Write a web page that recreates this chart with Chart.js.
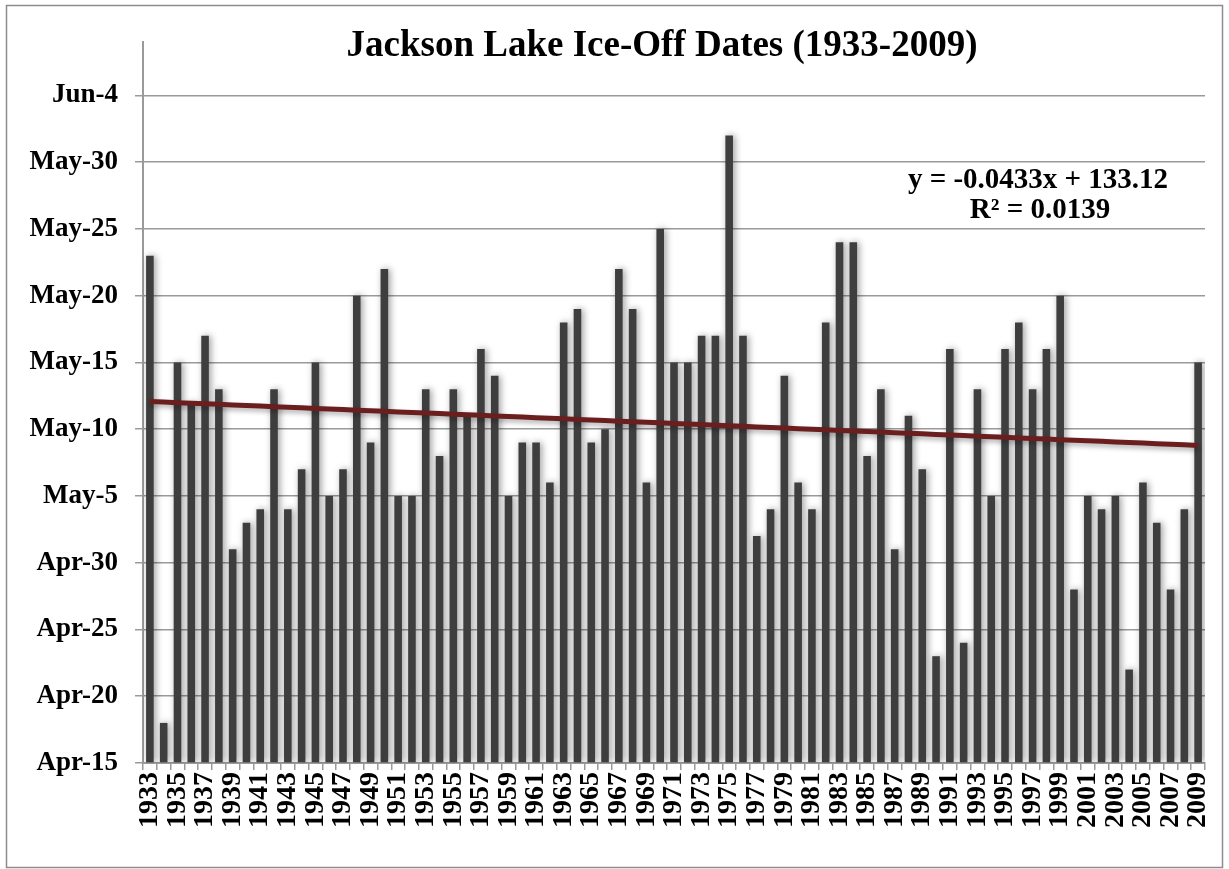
<!DOCTYPE html>
<html>
<head>
<meta charset="utf-8">
<title>Jackson Lake Ice-Off Dates</title>
<script src="https://cdn.jsdelivr.net/npm/chart.js@4/dist/chart.umd.min.js"></script>
<style>
  html, body { margin: 0; padding: 0; background: #fff; }
  #ice-chart { display: block; }
</style>
</head>
<body>
<canvas id="ice-chart" width="1229" height="869"></canvas>
<script>
'use strict';

// years on the x axis
var years = [
  '1933','1934','1935','1936','1937','1938','1939','1940','1941','1942',
  '1943','1944','1945','1946','1947','1948','1949','1950','1951','1952',
  '1953','1954','1955','1956','1957','1958','1959','1960','1961','1962',
  '1963','1964','1965','1966','1967','1968','1969','1970','1971','1972',
  '1973','1974','1975','1976','1977','1978','1979','1980','1981','1982',
  '1983','1984','1985','1986','1987','1988','1989','1990','1991','1992',
  '1993','1994','1995','1996','1997','1998','1999','2000','2001','2002',
  '2003','2004','2005','2006','2007','2008','2009'
];

// ice-off date as day number (spreadsheet day count, Apr-15 = 106)
var iceOffDay = [
  144, 109, 136, 133, 138, 134, 122, 124, 125, 134,
  125, 128, 136, 126, 128, 141, 130, 143, 126, 126,
  134, 129, 134, 132, 137, 135, 126, 130, 130, 127,
  139, 140, 130, 131, 143, 140, 127, 146, 136, 136,
  138, 138, 153, 138, 123, 125, 135, 127, 125, 139,
  145, 145, 129, 134, 122, 132, 128, 114, 137, 115,
  134, 126, 137, 139, 134, 137, 141, 119, 126, 125,
  126, 113, 127, 124, 119, 125, 136
];

// y axis ticks
var tickDays = [106, 111, 116, 121, 126, 131, 136, 141, 146, 151, 156];
var tickLabels = ['Apr-15', 'Apr-20', 'Apr-25', 'Apr-30', 'May-5', 'May-10',
                  'May-15', 'May-20', 'May-25', 'May-30', 'Jun-4'];

// linear trend fitted over year index 1..77
var trendSlope = -0.0433;
var trendIntercept = 133.12;
var trendR2 = 0.0139;

var trendDay = years.map(function (y, i) {
  return trendSlope * (i + 1) + trendIntercept;
});

var GRID = '#9a9a9a';
var SERIF = '"Liberation Serif", serif';

// soft drop shadow under bars and trend line
var shadowPlugin = {
  id: 'shadow',
  beforeDatasetDraw: function (chart, args) {
    var ctx = chart.ctx;
    ctx.save();
    if (args.meta.type === 'bar') {
      ctx.shadowColor = 'rgba(0,0,0,0.4)';
      ctx.shadowBlur = 7;
      ctx.shadowOffsetX = 2;
      ctx.shadowOffsetY = 0;
    } else {
      ctx.shadowColor = 'rgba(0,0,0,0.3)';
      ctx.shadowBlur = 5;
      ctx.shadowOffsetX = 0;
      ctx.shadowOffsetY = 3;
    }
  },
  afterDatasetDraw: function (chart) {
    chart.ctx.restore();
  }
};

// frame, title and trend equation
var decorPlugin = {
  id: 'decor',
  beforeDraw: function (chart) {
    var ctx = chart.ctx;
    ctx.save();
    ctx.fillStyle = '#fff';
    ctx.fillRect(0, 0, chart.width, chart.height);
    ctx.strokeStyle = '#8c8c8c';
    ctx.lineWidth = 1.5;
    ctx.strokeRect(6.5, 5.5, 1216, 862);
    ctx.restore();
  },
  afterDraw: function (chart) {
    var ctx = chart.ctx;
    ctx.save();
    ctx.fillStyle = '#000';
    ctx.textAlign = 'center';
    ctx.textBaseline = 'middle';
    ctx.font = 'bold 37px ' + SERIF;
    ctx.fillText('Jackson Lake Ice-Off Dates (1933-2009)', 662, 46);
    ctx.font = 'bold 29px ' + SERIF;
    ctx.fillText('y = ' + trendSlope + 'x + ' + trendIntercept, 1038, 181);
    ctx.fillText('R\u00B2 = ' + trendR2, 1040, 211);
    ctx.restore();
  }
};

new Chart(document.getElementById('ice-chart'), {
  type: 'bar',
  data: {
    labels: years,
    datasets: [{
        type: 'line',
        data: trendDay,
        borderColor: '#6b1e1e',
        borderWidth: 5,
        pointRadius: 0,
        fill: false,
        order: 1
      }, {
        data: iceOffDay,
        backgroundColor: '#3e3e3e',
        borderWidth: 0,
        barPercentage: 0.55,
        categoryPercentage: 1,
        base: 106,
        order: 2
      }
    ]
  },
  options: {
    responsive: false,
    animation: false,
    layout: {
      padding: { left: 0, right: 24, top: 42, bottom: 0 }
    },
    plugins: {
      legend: { display: false },
      title: { display: false },
      tooltip: { enabled: false }
    },
    scales: {
      x: {
        grid: {
          offset: true,
          drawOnChartArea: false,
          color: GRID,
          lineWidth: 1.5,
          tickLength: 7
        },
        border: { color: GRID, width: 2 },
        ticks: {
          autoSkip: false,
          minRotation: 90,
          maxRotation: 90,
          padding: 2,
          color: '#000',
          font: { family: SERIF, weight: 'bold', size: 28 },
          callback: function (value, i) {
            return i % 2 === 0 ? years[i] : '';
          }
        },
        afterFit: function (scale) {
          scale.height = 106;
          // keep the rotated end labels from shrinking the plot
          scale.paddingLeft = 0;
          scale.paddingRight = 0;
        }
      },
      y: {
        min: 106,
        max: 160,
        grid: {
          color: GRID,
          lineWidth: 1.5,
          tickLength: 8
        },
        border: { color: GRID, width: 2 },
        ticks: {
          padding: 17,
          color: '#000',
          font: { family: SERIF, weight: 'bold', size: 27 },
          callback: function (value) {
            var k = tickDays.indexOf(value);
            return k >= 0 ? tickLabels[k] : '';
          }
        },
        afterBuildTicks: function (scale) {
          scale.ticks = tickDays.map(function (d) {
            return { value: d };
          });
        },
        afterFit: function (scale) {
          scale.width = 143;
        }
      }
    }
  },
  plugins: [shadowPlugin, decorPlugin]
});
</script>
</body>
</html>
